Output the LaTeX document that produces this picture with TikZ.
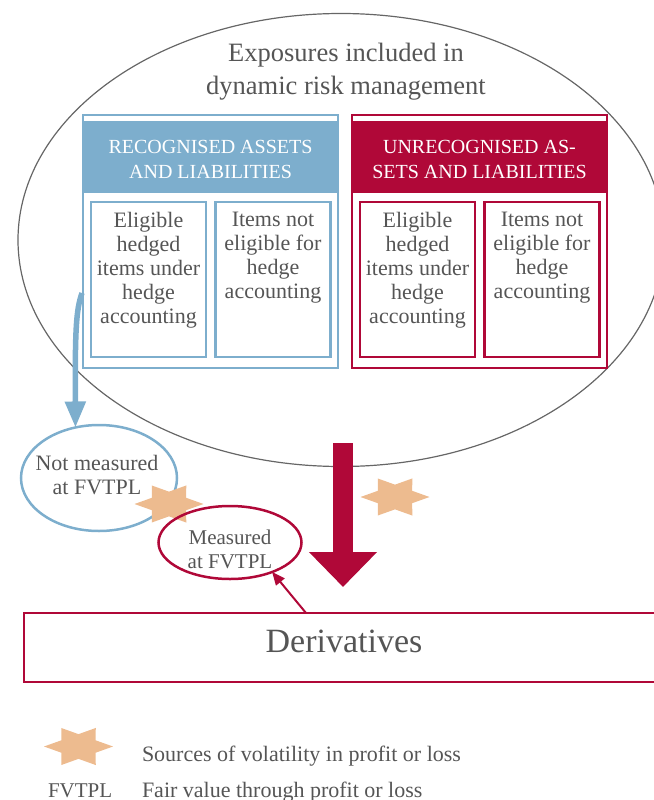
\documentclass[tikz,border=0pt]{standalone}
\usepackage{fontspec}
\setmainfont{Liberation Serif}
\usetikzlibrary{shapes.geometric,arrows.meta}

\definecolor{recblue}{RGB}{125,174,205}
\definecolor{unrecred}{RGB}{176,8,56}
\definecolor{starfill}{RGB}{237,187,143}
\definecolor{txtgray}{RGB}{85,85,85}

% six pointed star, flattened
\newcommand{\volstar}[1]{%
  \fill[starfill,shift={#1},xscale=34.5,yscale=21.4] (0:1)
    \foreach \a in {30,90,...,330} { -- (\a:0.577) -- (\a+30:1) } -- cycle;}

\begin{document}
\begin{tikzpicture}[x=1pt,y=-1pt,
    every node/.style={inner sep=0pt,outer sep=0pt,text=txtgray},
    grpbox/.style={draw,line width=2.5pt,minimum width=255pt,minimum height=253pt},
    subbox/.style={draw,line width=2.5pt,minimum width=115pt,minimum height=155pt},
    ring/.style={ellipse,draw,line width=2.5pt},
    txt/.style={align=center,font=\fontsize{22}{24}\selectfont}]
  \useasboundingbox (0,0) rectangle (653,800);

  % outer exposure set
  \node[ellipse,draw=black!60,line width=1.2pt,minimum width=646pt,minimum height=453pt] (expo) at (341,240) {};
  \node[align=center,anchor=north,font=\fontsize{26.5}{33}\selectfont] (title) at (346,43)
    {Exposures included in\\dynamic risk management};

  % the two groups
  \foreach \grp/\col/\dx/\head in {rec/recblue/0/{RECOGNISED ASSETS\\AND LIABILITIES},
                                   unrec/unrecred/269/{UNRECOGNISED AS-\\SETS AND LIABILITIES}} {
    \begin{scope}[xshift=\dx]
      \fill[\col] (83,121) rectangle (338,193);
      \node[grpbox,draw=\col] (\grp) at (210.5,241.5) {};
      \node[align=center,anchor=north,text=white,font=\fontsize{20}{25}\selectfont] (\grp-head) at (210.5,140) {\head};
      \node[subbox,draw=\col] (\grp-elig) at (148.5,279.5) {};
      \node[subbox,draw=\col] (\grp-not) at (273,279.5) {};
      \node[txt,anchor=north] at (148.5,212) {Eligible\\hedged\\items under\\hedge\\accounting};
      \node[txt,anchor=north] at (273,212) {Items not\\eligible for\\hedge\\accounting};
    \end{scope}
  }

  % measurement
  \node[ring,draw=recblue,minimum width=156pt,minimum height=106pt] (nm) at (99,478) {};
  \node[txt,anchor=north] at (97,455) {Not measured\\at FVTPL};
  \volstar{(169,504)}
  \node[ring,draw=unrecred,minimum width=143pt,minimum height=73pt] (meas) at (230,542.5) {};
  \node[txt,anchor=north,font=\fontsize{21}{24}\selectfont] at (230,530) {Measured\\at FVTPL};

  \coordinate (recout) at (82,293);
  \draw[recblue,line width=5.5pt,-{Triangle[width=20pt,length=26pt]}]
    (recout) .. controls (76,310) and (75,330) .. (nm.115);

  % derivatives
  \node[draw=unrecred,line width=2.5pt,minimum width=676pt,minimum height=69pt] (deriv) at (362,647.5) {};
  \node[anchor=base,font=\fontsize{34}{40}\selectfont] at (344,652) {Derivatives};

  \coordinate (flowtop) at (343,443);
  \coordinate (flowtip) at (343,587);
  \draw[unrecred,line width=20pt,-{Triangle[width=66pt,length=35pt]}] (flowtop) -- (flowtip);
  \volstar{(395,497)}
  \draw[unrecred,line width=2pt,-{Triangle[width=11pt,length=13pt]}] ([xshift=-56pt]deriv.north) -- (meas.-35);

  % legend
  \volstar{(78.5,746.5)}
  \node[anchor=base west,font=\fontsize{22}{24}\selectfont] at (142,761) {Sources of volatility in profit or loss};
  \node[anchor=base west,font=\fontsize{21}{24}\selectfont] at (48,797) {FVTPL};
  \node[anchor=base west,font=\fontsize{22}{24}\selectfont] at (142,797) {Fair value through profit or loss};
\end{tikzpicture}
\end{document}
